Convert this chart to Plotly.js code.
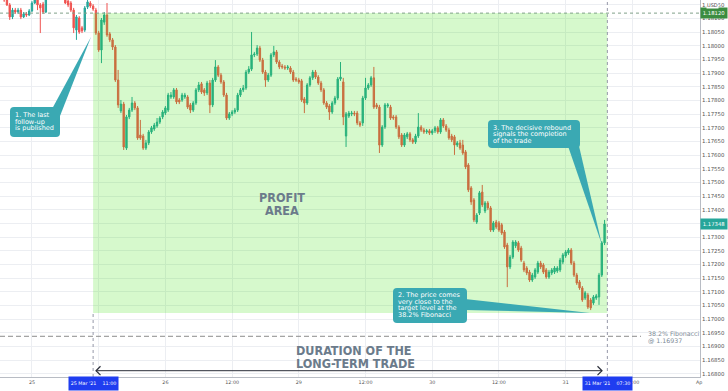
<!DOCTYPE html>
<html>
<head>
<meta charset="utf-8">
<script src="https://cdn.plot.ly/plotly-3.0.1.min.js"></script>
<style>
html,body{margin:0;padding:0;background:#fff;}
#chart{width:728px;height:391px;}
</style>
</head>
<body>
<div id="chart"></div>
<script>
// ---------- DATA (EUR/USD, 30-minute candles) ----------
const candleStart = '2021-03-24T18:30:00Z';   // first candle time
const open = [
1.18223,1.18197,1.18168,1.18150,1.18106,1.18131,1.18124,1.18131,1.18106,1.18117,
1.18113,1.18128,1.18157,1.18179,1.18150,1.18153,1.18124,1.18186,1.18212,1.18234,
1.18219,1.18205,1.18190,1.18175,1.18164,1.18157,1.18131,1.18058,1.18102,1.18066,
1.18058,1.18142,1.18157,1.18146,1.18131,1.18047,1.17985,1.18087,1.18113,1.18044,
1.18022,1.17996,1.17875,1.17762,1.17787,1.17626,1.17740,1.17765,1.17791,1.17773,
1.17674,1.17670,1.17626,1.17645,1.17685,1.17696,1.17707,1.17721,1.17740,1.17754,
1.17765,1.17813,1.17813,1.17839,1.17802,1.17802,1.17813,1.17813,1.17784,1.17765,
1.17791,1.17839,1.17861,1.17839,1.17828,1.17864,1.17784,1.17875,1.17923,1.17893,
1.17868,1.17820,1.17736,1.17751,1.17758,1.17765,1.17820,1.17839,1.17846,1.17904,
1.17915,1.17967,1.17970,1.17992,1.17948,1.17904,1.17875,1.17893,1.17967,1.17978,
1.17941,1.17926,1.17923,1.17919,1.17919,1.17904,1.17879,1.17875,1.17872,1.17806,
1.17791,1.17857,1.17883,1.17904,1.17886,1.17864,1.17839,1.17791,1.17780,1.17758,
1.17791,1.17809,1.17879,1.17868,1.17670,1.17743,1.17751,1.17754,1.17754,1.17718,
1.17718,1.17809,1.17846,1.17857,1.17883,1.17784,1.17776,1.17637,1.17703,1.17780,
1.17776,1.17740,1.17740,1.17703,1.17674,1.17637,1.17667,1.17678,1.17656,1.17648,
1.17670,1.17703,1.17692,1.17685,1.17689,1.17681,1.17689,1.17700,1.17685,1.17729,
1.17707,1.17692,1.17670,1.17667,1.17637,1.17645,1.17637,1.17612,1.17564,1.17480,
1.17436,1.17355,1.17388,1.17465,1.17396,1.17425,1.17407,1.17326,1.17355,1.17352,
1.17345,1.17319,1.17271,1.17191,1.17227,1.17268,1.17279,1.17260,1.17205,1.17187,
1.17172,1.17143,1.17154,1.17172,1.17205,1.17198,1.17180,1.17154,1.17169,1.17172,
1.17176,1.17180,1.17209,1.17231,1.17242,1.17253,1.17205,1.17161,1.17136,1.17114,
1.17077,1.17088,1.17070,1.17059,1.17077,1.17081,1.17161,1.17279];
const high = [
1.18234,1.18205,1.18179,1.18157,1.18139,1.18139,1.18139,1.18139,1.18124,1.18124,
1.18135,1.18164,1.18190,1.18186,1.18157,1.18161,1.18190,1.18219,1.18241,1.18241,
1.18226,1.18212,1.18197,1.18183,1.18172,1.18164,1.18139,1.18113,1.18109,1.18073,
1.18146,1.18168,1.18164,1.18153,1.18139,1.18055,1.18102,1.18124,1.18157,1.18051,
1.18029,1.18003,1.17912,1.17802,1.17795,1.17747,1.17773,1.17813,1.17798,1.17780,
1.17729,1.17678,1.17656,1.17692,1.17707,1.17718,1.17736,1.17743,1.17765,1.17780,
1.17828,1.17831,1.17846,1.17846,1.17809,1.17828,1.17828,1.17820,1.17791,1.17798,
1.17846,1.17868,1.17868,1.17846,1.17872,1.17875,1.17883,1.17948,1.17930,1.17901,
1.17875,1.17828,1.17758,1.17765,1.17773,1.17828,1.17846,1.17857,1.17912,1.17926,
1.18051,1.17978,1.18003,1.18000,1.17956,1.17912,1.17901,1.17974,1.18000,1.17985,
1.17948,1.17934,1.17930,1.17930,1.17926,1.17912,1.17886,1.17883,1.17879,1.17813,
1.17864,1.17890,1.17912,1.17912,1.17893,1.17872,1.17846,1.17798,1.17787,1.17798,
1.17817,1.17886,1.17941,1.17883,1.17758,1.17762,1.17762,1.17762,1.17762,1.17725,
1.17817,1.17883,1.17864,1.17890,1.17923,1.17791,1.17784,1.17710,1.17791,1.17791,
1.17784,1.17747,1.17747,1.17710,1.17681,1.17681,1.17685,1.17685,1.17663,1.17678,
1.17754,1.17710,1.17700,1.17696,1.17696,1.17696,1.17707,1.17707,1.17736,1.17736,
1.17714,1.17700,1.17678,1.17674,1.17652,1.17656,1.17656,1.17619,1.17571,1.17487,
1.17443,1.17388,1.17469,1.17491,1.17432,1.17432,1.17414,1.17359,1.17363,1.17359,
1.17352,1.17326,1.17279,1.17235,1.17289,1.17289,1.17286,1.17268,1.17213,1.17194,
1.17180,1.17169,1.17187,1.17213,1.17213,1.17205,1.17187,1.17180,1.17187,1.17194,
1.17194,1.17224,1.17242,1.17253,1.17260,1.17260,1.17213,1.17169,1.17143,1.17121,
1.17103,1.17096,1.17077,1.17088,1.17092,1.17169,1.17286,1.17363];
const low = [
1.18190,1.18161,1.18146,1.18095,1.18098,1.18117,1.18117,1.18098,1.18102,1.18106,
1.18109,1.18124,1.18153,1.18131,1.18047,1.18117,1.18120,1.18179,1.18205,1.18212,
1.18197,1.18183,1.18168,1.18153,1.18142,1.18124,1.18047,1.18022,1.18044,1.18047,
1.18051,1.18135,1.18139,1.18128,1.18040,1.17978,1.17937,1.18077,1.18033,1.18014,
1.17985,1.17868,1.17773,1.17754,1.17619,1.17619,1.17732,1.17758,1.17765,1.17656,
1.17656,1.17619,1.17619,1.17637,1.17678,1.17689,1.17700,1.17714,1.17732,1.17747,
1.17758,1.17806,1.17806,1.17787,1.17787,1.17795,1.17806,1.17769,1.17754,1.17758,
1.17784,1.17831,1.17824,1.17817,1.17820,1.17754,1.17776,1.17868,1.17886,1.17861,
1.17813,1.17729,1.17729,1.17743,1.17751,1.17758,1.17813,1.17831,1.17839,1.17897,
1.17908,1.17959,1.17963,1.17941,1.17897,1.17850,1.17868,1.17886,1.17959,1.17934,
1.17915,1.17915,1.17912,1.17912,1.17897,1.17868,1.17868,1.17861,1.17795,1.17754,
1.17784,1.17850,1.17875,1.17879,1.17857,1.17831,1.17784,1.17769,1.17729,1.17751,
1.17784,1.17802,1.17872,1.17710,1.17630,1.17736,1.17743,1.17743,1.17710,1.17703,
1.17707,1.17802,1.17839,1.17850,1.17769,1.17769,1.17608,1.17630,1.17696,1.17773,
1.17729,1.17729,1.17696,1.17659,1.17630,1.17630,1.17659,1.17648,1.17641,1.17641,
1.17663,1.17685,1.17678,1.17678,1.17674,1.17674,1.17681,1.17678,1.17678,1.17700,
1.17685,1.17656,1.17648,1.17601,1.17630,1.17619,1.17601,1.17549,1.17465,1.17418,
1.17355,1.17348,1.17381,1.17410,1.17388,1.17399,1.17319,1.17319,1.17330,1.17319,
1.17308,1.17257,1.17117,1.17183,1.17220,1.17260,1.17246,1.17209,1.17172,1.17161,
1.17136,1.17136,1.17147,1.17165,1.17183,1.17165,1.17147,1.17147,1.17161,1.17165,
1.17169,1.17172,1.17201,1.17224,1.17235,1.17198,1.17154,1.17125,1.17107,1.17063,
1.17070,1.17037,1.17033,1.17052,1.17070,1.17052,1.17154,1.17271];
const close = [
1.18197,1.18168,1.18150,1.18106,1.18131,1.18124,1.18131,1.18106,1.18117,1.18113,
1.18128,1.18157,1.18179,1.18150,1.18139,1.18124,1.18186,1.18212,1.18234,1.18219,
1.18205,1.18190,1.18175,1.18157,1.18150,1.18131,1.18066,1.18106,1.18051,1.18055,
1.18139,1.18161,1.18146,1.18135,1.18047,1.17985,1.18095,1.18113,1.18040,1.18022,
1.17996,1.17875,1.17784,1.17787,1.17630,1.17740,1.17765,1.17791,1.17773,1.17663,
1.17663,1.17626,1.17645,1.17685,1.17700,1.17710,1.17721,1.17736,1.17758,1.17773,
1.17820,1.17820,1.17839,1.17795,1.17795,1.17820,1.17820,1.17776,1.17765,1.17791,
1.17839,1.17857,1.17831,1.17828,1.17864,1.17784,1.17875,1.17923,1.17893,1.17868,
1.17820,1.17736,1.17751,1.17758,1.17765,1.17820,1.17839,1.17846,1.17904,1.17915,
1.17967,1.17970,1.17992,1.17948,1.17904,1.17875,1.17893,1.17967,1.17978,1.17941,
1.17923,1.17923,1.17919,1.17923,1.17904,1.17875,1.17875,1.17868,1.17802,1.17791,
1.17857,1.17883,1.17904,1.17886,1.17864,1.17839,1.17791,1.17776,1.17758,1.17791,
1.17809,1.17879,1.17886,1.17740,1.17751,1.17754,1.17754,1.17751,1.17718,1.17710,
1.17809,1.17846,1.17857,1.17883,1.17776,1.17776,1.17637,1.17703,1.17784,1.17784,
1.17736,1.17736,1.17703,1.17667,1.17637,1.17674,1.17678,1.17656,1.17648,1.17670,
1.17703,1.17692,1.17685,1.17689,1.17681,1.17689,1.17700,1.17685,1.17729,1.17707,
1.17692,1.17663,1.17656,1.17637,1.17645,1.17626,1.17608,1.17557,1.17473,1.17429,
1.17363,1.17381,1.17462,1.17418,1.17425,1.17407,1.17326,1.17352,1.17337,1.17326,
1.17315,1.17264,1.17191,1.17227,1.17282,1.17282,1.17253,1.17216,1.17180,1.17169,
1.17143,1.17161,1.17180,1.17205,1.17191,1.17172,1.17154,1.17172,1.17180,1.17187,
1.17187,1.17216,1.17235,1.17246,1.17253,1.17205,1.17161,1.17132,1.17114,1.17070,
1.17096,1.17044,1.17041,1.17081,1.17085,1.17161,1.17279,1.17348];

const entryTime = '2021-03-25 11:00';
const exitTime  = '2021-03-31 07:30';
const targetLevel = 1.18120;
const zoneBottom = 1.17022;
const fibLevel = 1.16937;
const yRange = [1.16788, 1.18168];
const xRange = ['2021-03-24 18:15', '2021-04-01 00:10'];
const xTickVals = ['2021-03-25','2021-03-25 12:00','2021-03-26','2021-03-26 12:00','2021-03-29','2021-03-29 12:00','2021-03-30','2021-03-30 12:00','2021-03-31','2021-03-31 12:00','2021-04-01'];
// the 25 Mar 12:00 label sits fully under the blue crosshair label in the reference
const xTickText = ['25','','26','12:00','29','12:00','30','12:00','31','12:00','Ap'];

// ---------- time index (30 min steps, weekends closed) ----------
function buildTimes(n){
  const out=[]; let t=Date.parse(candleStart);
  while(out.length<n){
    const d=new Date(t); const wd=d.getUTCDay();
    if(wd!==0 && wd!==6) out.push(d.toISOString().slice(0,16).replace('T',' '));
    t+=30*60*1000;
  }
  return out;
}
const times = buildTimes(close.length);

// ---------- layout helpers (pixel -> paper) ----------
const PW=700, PH=377;
const px = x => x/PW;
const py = y => 1 - y/PH;
const FONT='DejaVu Sans';
const TEAL='#3aa9b3';

function rrect(x0,y0,x1,y1,r){
  return `M${px(x0+r)},${py(y0)} L${px(x1-r)},${py(y0)} Q${px(x1)},${py(y0)} ${px(x1)},${py(y0+r)} `+
         `L${px(x1)},${py(y1-r)} Q${px(x1)},${py(y1)} ${px(x1-r)},${py(y1)} `+
         `L${px(x0+r)},${py(y1)} Q${px(x0)},${py(y1)} ${px(x0)},${py(y1-r)} `+
         `L${px(x0)},${py(y0+r)} Q${px(x0)},${py(y0)} ${px(x0+r)},${py(y0)} Z`;
}
function poly(pts){
  return 'M'+pts.map(p=>`${px(p[0])},${py(p[1])}`).join(' L')+' Z';
}

const callouts = [
  {box:[10,107,60,137], tail:[[52,109],[91,37],[60,116]], lines:['1. The last','follow-up','is published'], tx:14, ty:115},
  {box:[393,288,467,323], tail:[[465,299],[590,313],[465,310]], lines:['2. The price comes','very close to the','target level at the','38.2% Fibonacci'], tx:397, ty:295},
  {box:[488,120,580,148], tail:[[568,146],[602,245],[579,146]], lines:['3. The decisive rebound','signals the completion','of the trade'], tx:492, ty:127.7}
];

const shapes = [
  // profit zone (translucent, over candles)
  {type:'rect', xref:'x', yref:'y', x0:entryTime, x1:exitTime, y0:zoneBottom, y1:targetLevel,
   fillcolor:'rgba(50,225,0,0.2)', line:{width:0}, layer:'above'},
  // target dotted line
  {type:'line', xref:'paper', yref:'y', x0:0, x1:1, y0:targetLevel, y1:targetLevel,
   line:{color:'#80a08a', width:1, dash:'dot'}, layer:'above'},
  // fibonacci dashed line
  {type:'line', xref:'paper', yref:'y', x0:0, x1:px(641), y0:fibLevel, y1:fibLevel,
   line:{color:'#8c8c8c', width:1, dash:'5px,3px'}, layer:'above'},
  // vertical dotted lines
  {type:'line', xref:'x', yref:'paper', x0:entryTime, x1:entryTime, y0:0, y1:py(313),
   line:{color:'#9598a8', width:1, dash:'dot'}, layer:'above'},
  {type:'line', xref:'x', yref:'paper', x0:exitTime, x1:exitTime, y0:0, y1:1,
   line:{color:'#9598a8', width:1, dash:'dot'}, layer:'above'},
  // duration arrow
  {type:'line', xref:'paper', yref:'paper', x0:px(96), x1:px(602), y0:py(370.7), y1:py(370.7),
   line:{color:'#2a2e39', width:1}, layer:'above'},
  {type:'path', xref:'paper', yref:'paper', path:`M${px(100.5)},${py(366.3)} L${px(96)},${py(370.7)} L${px(100.5)},${py(375.1)}`,
   line:{color:'#2a2e39', width:1.2}, layer:'above'},
  {type:'path', xref:'paper', yref:'paper', path:`M${px(597.5)},${py(366.3)} L${px(602)},${py(370.7)} L${px(597.5)},${py(375.1)}`,
   line:{color:'#2a2e39', width:1.2}, layer:'above'}
];
callouts.forEach(c=>{
  shapes.push({type:'path', xref:'paper', yref:'paper', path:poly(c.tail), fillcolor:TEAL, line:{width:0}, layer:'above'});
  shapes.push({type:'path', xref:'paper', yref:'paper', path:rrect(c.box[0],c.box[1],c.box[2],c.box[3],4), fillcolor:TEAL, line:{width:0}, layer:'above'});
});

const annotations = [];
function addLines(lines, x, y0, dy, font, anchor){
  lines.forEach((t,i)=>annotations.push({xref:'paper', yref:'paper', x:px(x), y:py(y0+i*dy), text:t,
    showarrow:false, xanchor:anchor||'left', yanchor:'middle', font:font, borderpad:0}));
}
callouts.forEach(c=>addLines(c.lines, c.tx, c.ty, 6.7, {family:FONT, size:6.5, color:'#ffffff'}));
const bigFont = {family:'DejaVu Sans Condensed', size:12.5, weight:'bold', color:'#6b7b8b'};
addLines(['PROFIT','AREA'], 282, 197, 13.5, bigFont, 'center');
addLines(['DURATION OF THE','LONG-TERM TRADE'], 295, 350, 13, bigFont, 'left');
addLines(['38.2% Fibonacci','@ '+fibLevel.toFixed(5)], 647, 333.5, 7.5, {family:FONT, size:6.3, color:'#7d8a96'}, 'left');

// blue time labels on the x axis
function timeLabel(text, cx){
  annotations.push({xref:'paper', yref:'paper', x:px(cx), y:py(383.5), text:text, showarrow:false,
    xanchor:'center', yanchor:'middle', bgcolor:'#1f3df0', width:47, height:11, borderpad:1,
    font:{family:FONT, size:4.8, color:'#ffffff'}});
}
timeLabel("25 Mar '21\u00a0\u00a0\u00a0\u00a011:00", 93);
timeLabel("31 Mar '21\u00a0\u00a0\u00a0\u00a007:30", 607.5);

// price labels on the y axis
function priceLabel(text, y, bg){
  annotations.push({xref:'paper', yref:'paper', x:px(714), y:py(y), text:text, showarrow:false,
    xanchor:'center', yanchor:'middle', bgcolor:bg, width:25, height:9, borderpad:0.5,
    font:{family:FONT, size:5.3, color:'#ffffff'}});
}
priceLabel(targetLevel.toFixed(5), 13, '#3b8d40');
priceLabel(close[close.length-1].toFixed(5), 224.3, '#26a69a');
annotations.push({xref:'paper', yref:'paper', x:px(713), y:py(4.5), text:'USD', showarrow:false,
  xanchor:'center', yanchor:'middle', bgcolor:'#ffffff', borderpad:0, font:{family:FONT, size:5, color:'#444'}});

const trace = {
  type:'candlestick', x:times, open:open, high:high, low:low, close:close,
  increasing:{line:{color:'#26a69a', width:1}, fillcolor:'#26a69a'},
  decreasing:{line:{color:'#ef5350', width:1}, fillcolor:'#ef5350'},
  whiskerwidth:0, hoverinfo:'skip', showlegend:false
};

const layout = {
  width:728, height:391,
  margin:{l:0, r:28, t:0, b:14, pad:0},
  paper_bgcolor:'#ffffff', plot_bgcolor:'#ffffff',
  showlegend:false, hovermode:false,
  xaxis:{type:'date', range:xRange, rangebreaks:[{bounds:['sat','mon']}],
    rangeslider:{visible:false}, tickmode:'array', tickvals:xTickVals, ticktext:xTickText,
    showgrid:true, gridcolor:'#eceef2', gridwidth:1, zeroline:false,
    showline:true, linecolor:'#b8bcc4', linewidth:1, ticks:'',
    tickfont:{family:FONT, size:4.8, color:'#555'}, fixedrange:true},
  yaxis:{side:'right', range:yRange, tickmode:'linear', tick0:1.168, dtick:0.0005, tickformat:'.5f',
    showgrid:true, gridcolor:'#eceef2', gridwidth:1, zeroline:false,
    showline:true, linecolor:'#b8bcc4', linewidth:1, ticks:'',
    tickfont:{family:FONT, size:5.4, color:'#555'}, fixedrange:true},
  shapes:shapes,
  annotations:annotations
};

Plotly.newPlot('chart', [trace], layout, {displayModeBar:false, staticPlot:true});
</script>
</body>
</html>
